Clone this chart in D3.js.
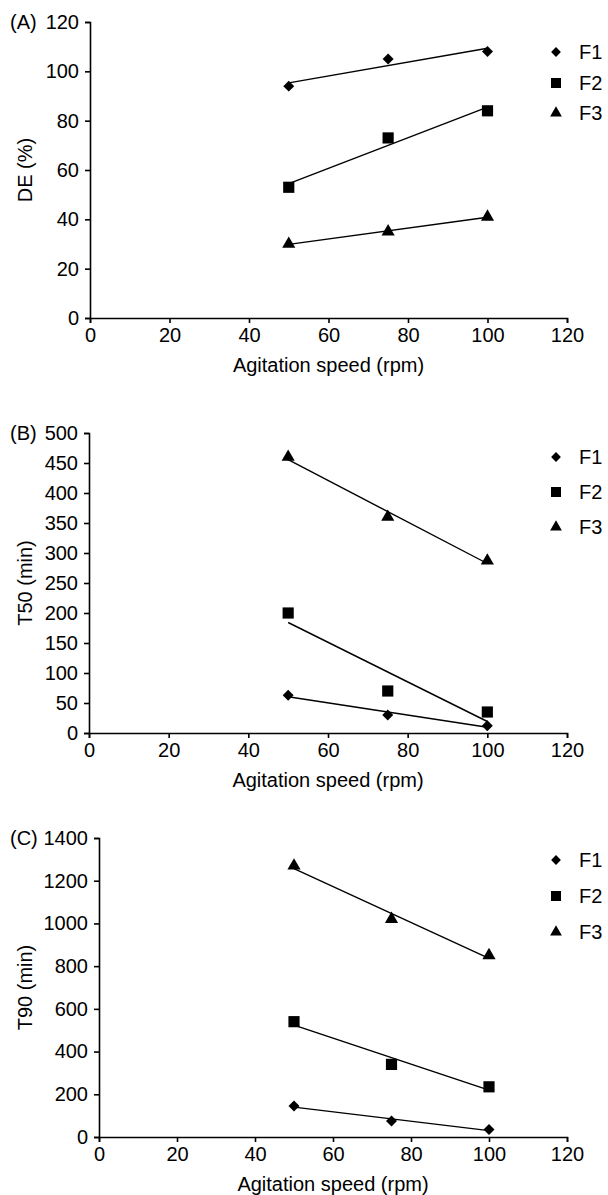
<!DOCTYPE html>
<html>
<head>
<meta charset="utf-8">
<script src="https://cdn.jsdelivr.net/npm/d3@7"></script>
<style>
  body { margin: 0; background: #fff; }
  svg text { font-family: "Liberation Sans", Arial, sans-serif; fill: #000; }
</style>
</head>
<body>
<div class="chart"></div>
<script>
// Width and height
var width = 608;
var height = 1195;
var fontSize = '20px';

// Data
var speeds = [50, 75, 100];
var seriesNames = ['F1', 'F2', 'F3'];
var xTicks = [0, 20, 40, 60, 80, 100, 120];

var deF1 = [94, 105, 108];
var deF2 = [53, 73, 84];
var deF3 = [30, 35, 41];

var t50F1 = [63, 30, 12];
var t50F2 = [200, 70, 35];
var t50F3 = [460, 360, 287];

var t90F1 = [145, 75, 35];
var t90F2 = [540, 340, 235];
var t90F3 = [1270, 1020, 850];

var panels = [
  { tag: '(A)', yTitle: 'DE (%)', yMax: 120, yStep: 20, series: [deF1, deF2, deF3],
    left: 90, right: 567, top: 22, bottom: 318, legendY: [52, 83, 113] },
  { tag: '(B)', yTitle: 'T50 (min)', yMax: 500, yStep: 50, series: [t50F1, t50F2, t50F3],
    left: 89, right: 567, top: 433, bottom: 733, legendY: [457, 492, 527] },
  { tag: '(C)', yTitle: 'T90 (min)', yMax: 1400, yStep: 200, series: [t90F1, t90F2, t90F3],
    left: 99, right: 567, top: 838, bottom: 1137, legendY: [860, 896, 932] }
];

// Markers
var symbolTypes = [d3.symbolSquare, d3.symbolSquare, d3.symbolTriangle];
var symbolSizes = [60, 125, 75];
var symbolRotate = [45, 0, 0];

// Least squares fit for the trend lines
var fit = function(xs, ys) {
  var mx = d3.mean(xs), my = d3.mean(ys);
  var num = d3.sum(xs, function(x, i) { return (x - mx) * (ys[i] - my); });
  var den = d3.sum(xs, function(x) { return (x - mx) * (x - mx); });
  var b = num / den;
  return function(x) { return my + b * (x - mx); };
};

var svg = d3.select('.chart')
            .append('svg')
            .attr('width', width)
            .attr('height', height);

panels.forEach(function(p) {
  var xScale = d3.scaleLinear().domain([0, 120]).range([p.left, p.right]);
  var yScale = d3.scaleLinear().domain([0, p.yMax]).range([p.bottom, p.top]);

  var xAxis = d3.axisBottom(xScale)
                .tickValues(xTicks)
                .tickFormat(d3.format('d'))
                .tickSize(5)
                .tickPadding(5);
  var yAxis = d3.axisLeft(yScale)
                .tickValues(d3.range(0, p.yMax + 1, p.yStep))
                .tickFormat(d3.format('d'))
                .tickSize(5)
                .tickPadding(6);

  var g = svg.append('g');

  var gx = g.append('g')
            .attr('transform', 'translate(0,' + p.bottom + ')')
            .call(xAxis);
  var gy = g.append('g')
            .attr('transform', 'translate(' + p.left + ',0)')
            .call(yAxis);

  [gx, gy].forEach(function(ax) {
    ax.select('.domain').attr('stroke', '#000').attr('stroke-width', 1.6);
    ax.selectAll('.tick line').attr('stroke', '#000').attr('stroke-width', 1.6);
    ax.selectAll('.tick text')
      .style('font-size', fontSize)
      .style('font-family', '"Liberation Sans", Arial, sans-serif')
      .attr('fill', '#000');
  });

  // Panel tag
  g.append('text')
   .attr('x', 10)
   .attr('y', p.top)
   .attr('dy', '0.36em')
   .style('font-size', fontSize)
   .text(p.tag);

  // Axis titles
  g.append('text')
   .attr('x', (p.left + p.right) / 2)
   .attr('y', p.bottom + 54)
   .attr('text-anchor', 'middle')
   .style('font-size', fontSize)
   .text('Agitation speed (rpm)');

  g.append('text')
   .attr('transform', 'translate(32,' + (p.top + p.bottom) / 2 + ') rotate(-90)')
   .attr('text-anchor', 'middle')
   .style('font-size', fontSize)
   .text(p.yTitle);

  // Trend lines and markers
  p.series.forEach(function(vals, s) {
    var f = fit(speeds, vals);
    g.append('line')
     .attr('x1', xScale(speeds[0]))
     .attr('y1', yScale(f(speeds[0])))
     .attr('x2', xScale(speeds[speeds.length - 1]))
     .attr('y2', yScale(f(speeds[speeds.length - 1])))
     .attr('stroke', '#000')
     .attr('stroke-width', 1.4);

    g.selectAll('.pt' + s)
     .data(vals)
     .enter()
     .append('path')
     .attr('d', d3.symbol().type(symbolTypes[s]).size(symbolSizes[s]))
     .attr('transform', function(d, i) {
       return 'translate(' + xScale(speeds[i]) + ',' + yScale(d) + ') rotate(' + symbolRotate[s] + ')';
     })
     .attr('fill', '#000');

    // Legend
    g.append('path')
     .attr('d', d3.symbol().type(symbolTypes[s]).size(symbolSizes[s] * 0.8))
     .attr('transform', 'translate(556,' + p.legendY[s] + ') rotate(' + symbolRotate[s] + ')')
     .attr('fill', '#000');
    g.append('text')
     .attr('x', 579)
     .attr('y', p.legendY[s])
     .attr('dy', '0.36em')
     .style('font-size', fontSize)
     .text(seriesNames[s]);
  });
});
</script>
</body>
</html>
